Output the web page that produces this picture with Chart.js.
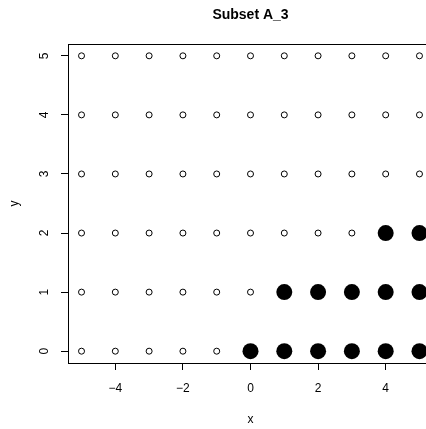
<!DOCTYPE html>
<html lang="en">
<head>
    <meta charset="UTF-8">
    <title>Subset A_3</title>
    <style>
        html, body {
            margin: 0;
            padding: 0;
            background: #ffffff;
            overflow: hidden;
            width: 426px;
            height: 429px;
        }
        canvas {
            display: block;
        }
    </style>
    <script src="https://cdn.jsdelivr.net/npm/chart.js"></script>
</head>
<body>
    <canvas id="plot" width="433" height="429" style="width:433px;height:429px"></canvas>

    <script>
        // grid of points
        const xValues = [-5, -4, -3, -2, -1, 0, 1, 2, 3, 4, 5];
        const yValues = [0, 1, 2, 3, 4, 5];

        // points that are drawn as big filled dots
        const filledX = [0, 1, 2, 3, 4, 5, 1, 2, 3, 4, 5, 4, 5];
        const filledY = [0, 0, 0, 0, 0, 0, 1, 1, 1, 1, 1, 2, 2];

        const xTicks = [-4, -2, 0, 2, 4];
        const yTicks = [0, 1, 2, 3, 4, 5];

        const titleText = 'Subset A_3';
        const fontFamily = '"Liberation Sans", Arial, Helvetica, sans-serif';

        const openPoints = [];
        yValues.forEach(y => xValues.forEach(x => openPoints.push({ x: x, y: y })));
        const filledPoints = filledX.map((x, i) => ({ x: x, y: filledY[i] }));

        // title, top border and rotated y tick labels (R style)
        const rStyle = {
            id: 'rStyle',
            afterDraw(chart) {
                const ctx = chart.ctx;
                const area = chart.chartArea;
                const yScale = chart.scales.y;
                ctx.save();
                ctx.strokeStyle = '#000';
                ctx.lineWidth = 1;
                ctx.beginPath();
                ctx.moveTo(area.left, Math.round(area.top) + 0.5);
                ctx.lineTo(area.right + 5, Math.round(area.top) + 0.5);
                ctx.stroke();

                ctx.fillStyle = '#000';
                ctx.font = 'bold 14px ' + fontFamily;
                ctx.textAlign = 'center';
                ctx.textBaseline = 'middle';
                ctx.fillText(titleText, (area.left + area.right) / 2, 15);

                ctx.font = '12px ' + fontFamily;
                yScale.ticks.forEach(t => {
                    const py = yScale.getPixelForValue(t.value);
                    ctx.save();
                    ctx.translate(45, py);
                    ctx.rotate(-Math.PI / 2);
                    ctx.fillText(String(t.value), 0, 0);
                    ctx.restore();
                });
                ctx.restore();
            }
        };

        new Chart(document.getElementById('plot'), {
            type: 'scatter',
            data: {
                datasets: [
                    {
                        label: 'filled',
                        data: filledPoints,
                        pointRadius: 8,
                        pointHoverRadius: 8,
                        backgroundColor: '#000',
                        borderColor: '#000',
                        borderWidth: 0,
                        order: 0
                    },
                    {
                        label: 'open',
                        data: openPoints,
                        pointRadius: 3,
                        pointHoverRadius: 3,
                        backgroundColor: 'rgba(0,0,0,0)',
                        borderColor: '#000',
                        borderWidth: 1,
                        order: 1
                    }
                ]
            },
            options: {
                responsive: false,
                animation: false,
                events: [],
                layout: { autoPadding: false, padding: { top: 44, left: 0, right: 0, bottom: 0 } },
                plugins: {
                    legend: { display: false },
                    tooltip: { enabled: false },
                    title: { display: false }
                },
                scales: {
                    x: {
                        type: 'linear',
                        min: -5.4,
                        max: 5.4,
                        afterBuildTicks: scale => { scale.ticks = xTicks.map(v => ({ value: v })); },
                        afterFit: scale => {
                            scale.height = 66;
                            scale.paddingLeft = 0;
                            scale.paddingRight = 0;
                        },
                        grid: { drawOnChartArea: false, tickLength: 7, color: '#000', lineWidth: 1 },
                        border: { display: true, color: '#000', width: 1 },
                        ticks: {
                            color: '#000',
                            padding: 11,
                            maxRotation: 0,
                            font: { family: fontFamily, size: 12 },
                            callback: v => (v < 0 ? '\u2212' + Math.abs(v) : String(v))
                        },
                        title: {
                            display: true,
                            text: 'x',
                            color: '#000',
                            font: { family: fontFamily, size: 12 },
                            padding: { top: 0, bottom: 2 }
                        }
                    },
                    y: {
                        type: 'linear',
                        min: -0.2,
                        max: 5.2,
                        afterBuildTicks: scale => { scale.ticks = yTicks.map(v => ({ value: v })); },
                        afterFit: scale => {
                            scale.width = 68;
                            scale.paddingTop = 0;
                            scale.paddingBottom = 0;
                        },
                        grid: { drawOnChartArea: false, tickLength: 7, color: '#000', lineWidth: 1 },
                        border: { display: true, color: '#000', width: 1 },
                        ticks: { display: false },
                        title: {
                            display: true,
                            text: 'y',
                            color: '#000',
                            font: { family: fontFamily, size: 12 },
                            padding: { top: 7, bottom: 0 }
                        }
                    }
                }
            },
            plugins: [rStyle]
        });
    </script>
</body>
</html>
